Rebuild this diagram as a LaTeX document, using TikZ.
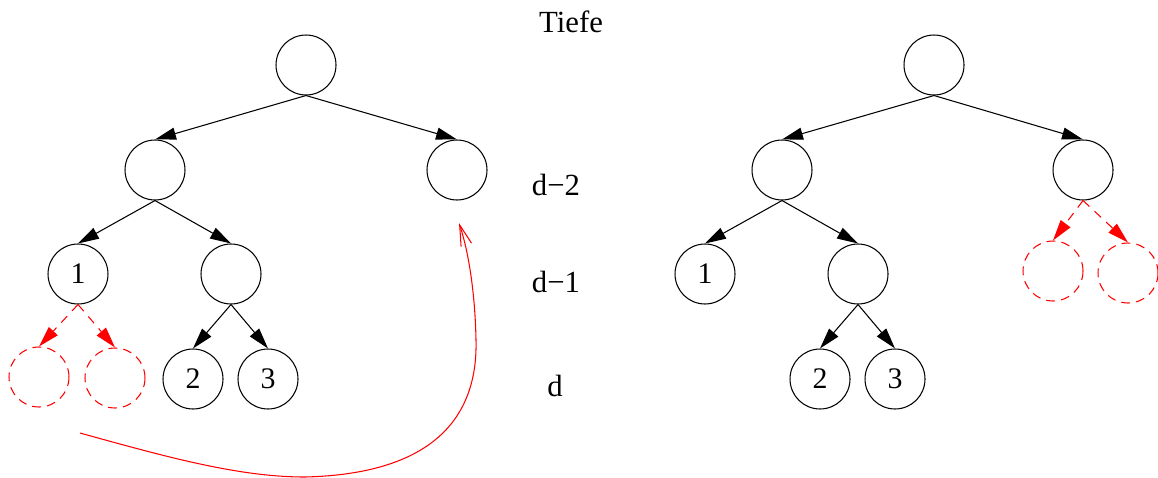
\documentclass[tikz,border=0pt]{standalone}
\usepackage{fontspec}
\setmainfont{Liberation Serif}
\usetikzlibrary{arrows.meta}

\begin{document}
\begin{tikzpicture}[
        x=0.02cm, y=-0.02cm,
        knot/.style={draw, circle, line width=0.6pt, minimum size=1.2cm, inner sep=0pt,
                     font=\fontsize{17}{19}\selectfont},
        leer/.style={knot, draw=red, dash pattern=on 5pt off 3.5pt},
        kante/.style={-{Triangle[length=0.42cm, width=0.24cm]}, line width=0.6pt},
        neu/.style={kante, red, dash pattern=on 5pt off 4pt},
        zurueck/.style={-{Straight Barb[length=0.42cm, width=0.22cm]}, red, line width=0.6pt},
        lbl/.style={font=\fontsize{17.5}{20}\selectfont, inner sep=0pt}]

    \useasboundingbox (0,0) rectangle (1158,477);

    % --- linker Baum
    \node[knot] (lroot) at (306,65)  {};
    \node[knot] (la)    at (155,170) {};
    \node[knot] (lb)    at (457,170) {};
    \node[knot] (l1)    at (78,274)  {1};
    \node[knot] (lc)    at (231,274) {};
    \node[leer] (lx)    at (39,377)  {};
    \node[leer] (ly)    at (115,378) {};
    \node[knot] (l2)    at (193,379) {2};
    \node[knot] (l3)    at (268,379) {3};

    \draw[kante] (lroot.south) -- (la.north);
    \draw[kante] (lroot.south) -- (lb.north);
    \draw[kante] (la.south) -- (l1.north);
    \draw[kante] (la.south) -- (lc.north);
    \draw[kante] (lc.south) -- (l2.north);
    \draw[kante] (lc.south) -- (l3.north);
    \draw[neu]   (l1.south) -- (lx.north);
    \draw[neu]   (l1.south) -- (ly.north);

    % Verschiebung des Teilbaums nach oben
    \coordinate (start) at (80,433);
    \coordinate (ziel)  at (459,223);
    \draw[zurueck] (start) .. controls (170,458) and (240,477) .. (305,477)
                           .. controls (430,474) and (478,420) .. (476,340)
                           .. controls (475,290) and (468,250) .. (ziel);

    % --- Tiefen
    \node[lbl] (tiefe) at (571,22)  {Tiefe};
    \node[lbl] (dzwei) at (556,185) {d−2};
    \node[lbl] (deins) at (556,282) {d−1};
    \node[lbl] (dnull) at (555,386) {d};

    % --- rechter Baum
    \node[knot] (rroot) at (934,65)   {};
    \node[knot] (ra)    at (782,170)  {};
    \node[knot] (rb)    at (1083,170) {};
    \node[knot] (r1)    at (705,274)  {1};
    \node[knot] (rc)    at (858,274)  {};
    \node[knot] (r2)    at (820,379)  {2};
    \node[knot] (r3)    at (895,379)  {3};
    \node[leer] (rx)    at (1053,271) {};
    \node[leer] (ry)    at (1128,273) {};

    \draw[kante] (rroot.south) -- (ra.north);
    \draw[kante] (rroot.south) -- (rb.north);
    \draw[kante] (ra.south) -- (r1.north);
    \draw[kante] (ra.south) -- (rc.north);
    \draw[kante] (rc.south) -- (r2.north);
    \draw[kante] (rc.south) -- (r3.north);
    \draw[neu]   (rb.south) -- (rx.north);
    \draw[neu]   (rb.south) -- (ry.north);

    \end{tikzpicture}
\end{document}
